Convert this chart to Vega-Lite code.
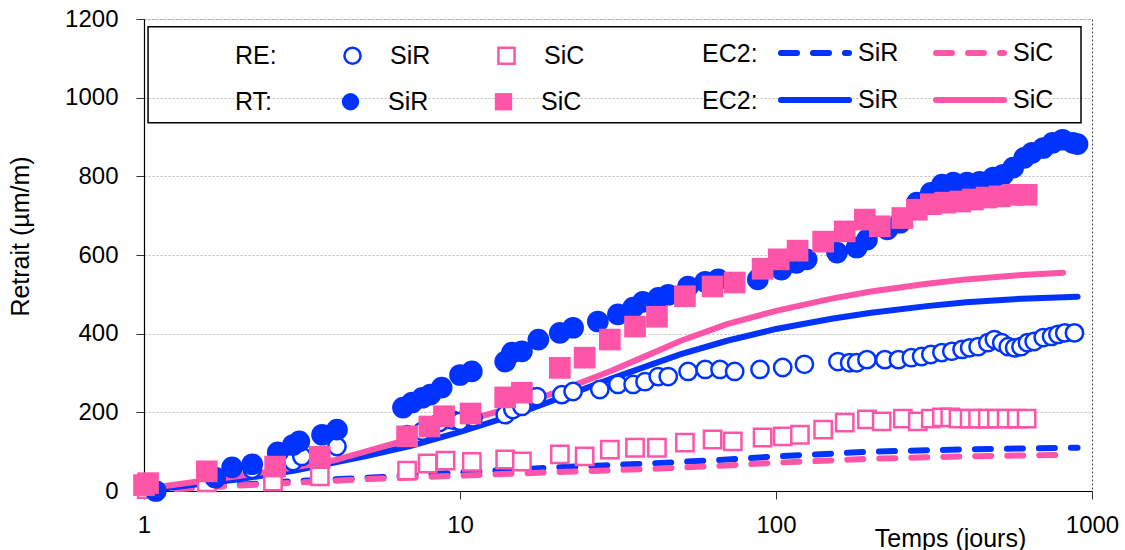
{
  "$schema": "https://vega.github.io/schema/vega-lite/v6.json",
  "width": 948,
  "height": 472,
  "autosize": {"type": "none"},
  "padding": {"left": 144, "top": 19, "right": 33, "bottom": 59},
  "background": "white",
  "config": {
    "font": "Liberation Sans",
    "view": {"stroke": "#444444", "strokeDash": [2, 2], "strokeWidth": 1},
    "axisX": {
      "grid": false, "tickSize": 8, "tickColor": "#333333", "domainColor": "black", "domainWidth": 1.2,
      "labelFontSize": 24, "labelColor": "black", "labelPadding": 14, "labelFlush": false,
      "titleFontSize": 25, "titleFontWeight": "normal", "titleColor": "black",
      "titleX": 806, "titleY": 55, "titleAlign": "center", "titleBaseline": "alphabetic"
    },
    "axisY": {
      "grid": true, "gridDash": [2, 2], "gridColor": "#bbbbbb", "gridWidth": 1,
      "tickSize": 8, "tickColor": "#333333", "domainColor": "black", "domainWidth": 1.2,
      "labelFontSize": 24, "labelColor": "black", "labelPadding": 18,
      "titleFontSize": 25, "titleFontWeight": "normal", "titleColor": "black",
      "titleX": -116, "titleY": 217, "titleAngle": 270, "titleAlign": "center", "titleBaseline": "alphabetic"
    },
    "legend": {
      "titleFontSize": 25, "titleFontWeight": "normal", "titleColor": "black",
      "labelFontSize": 25, "labelColor": "black", "padding": 0,
      "titleOrient": "left", "titleAnchor": "middle", "titleBaseline": "middle",
      "direction": "horizontal", "orient": "none"
    }
  },
  "datasets": {
    "box": [{"name": "legend box"}],
    "re": [
      {"t": 1.09, "v": 0, "mat": "SiR"}, {"t": 1.68, "v": 30, "mat": "SiR"}, {"t": 2.2, "v": 55, "mat": "SiR"}, {"t": 2.96, "v": 75, "mat": "SiR"}, {"t": 3.16, "v": 88, "mat": "SiR"}, {"t": 4.08, "v": 113, "mat": "SiR"}, {"t": 6.8, "v": 143, "mat": "SiR"}, {"t": 7.6, "v": 152, "mat": "SiR"}, {"t": 8.6, "v": 174, "mat": "SiR"}, {"t": 9.5, "v": 180, "mat": "SiR"}, {"t": 10, "v": 177, "mat": "SiR"}, {"t": 11, "v": 186, "mat": "SiR"}, {"t": 13.9, "v": 194, "mat": "SiR"}, {"t": 14.7, "v": 207, "mat": "SiR"}, {"t": 15.7, "v": 215, "mat": "SiR"}, {"t": 17.5, "v": 240, "mat": "SiR"}, {"t": 21, "v": 245, "mat": "SiR"}, {"t": 22.8, "v": 253, "mat": "SiR"}, {"t": 27.7, "v": 258, "mat": "SiR"}, {"t": 31.6, "v": 271, "mat": "SiR"}, {"t": 35.3, "v": 271, "mat": "SiR"}, {"t": 38.5, "v": 278, "mat": "SiR"}, {"t": 42.4, "v": 291, "mat": "SiR"}, {"t": 45.6, "v": 291, "mat": "SiR"}, {"t": 52.7, "v": 304, "mat": "SiR"}, {"t": 59.7, "v": 309, "mat": "SiR"}, {"t": 66.5, "v": 309, "mat": "SiR"}, {"t": 74, "v": 304, "mat": "SiR"}, {"t": 89, "v": 309, "mat": "SiR"}, {"t": 105, "v": 314, "mat": "SiR"}, {"t": 123, "v": 322, "mat": "SiR"}, {"t": 157, "v": 329, "mat": "SiR"}, {"t": 171, "v": 326, "mat": "SiR"}, {"t": 180, "v": 326, "mat": "SiR"}, {"t": 194, "v": 334, "mat": "SiR"}, {"t": 221, "v": 334, "mat": "SiR"}, {"t": 244, "v": 334, "mat": "SiR"}, {"t": 268, "v": 339, "mat": "SiR"}, {"t": 289, "v": 342, "mat": "SiR"}, {"t": 309, "v": 347, "mat": "SiR"}, {"t": 335, "v": 352, "mat": "SiR"}, {"t": 360, "v": 355, "mat": "SiR"}, {"t": 388, "v": 360, "mat": "SiR"}, {"t": 410, "v": 364, "mat": "SiR"}, {"t": 436, "v": 367, "mat": "SiR"}, {"t": 468, "v": 377, "mat": "SiR"}, {"t": 491, "v": 385, "mat": "SiR"}, {"t": 518, "v": 377, "mat": "SiR"}, {"t": 543, "v": 367, "mat": "SiR"}, {"t": 569, "v": 364, "mat": "SiR"}, {"t": 596, "v": 367, "mat": "SiR"}, {"t": 625, "v": 377, "mat": "SiR"}, {"t": 656, "v": 380, "mat": "SiR"}, {"t": 701, "v": 390, "mat": "SiR"}, {"t": 745, "v": 393, "mat": "SiR"}, {"t": 780, "v": 398, "mat": "SiR"}, {"t": 820, "v": 402, "mat": "SiR"}, {"t": 880, "v": 402, "mat": "SiR"},
      {"t": 1.02, "v": 5, "mat": "SiC"}, {"t": 1.58, "v": 22, "mat": "SiC"}, {"t": 2.56, "v": 24, "mat": "SiC"}, {"t": 3.6, "v": 37, "mat": "SiC"}, {"t": 6.8, "v": 52, "mat": "SiC"}, {"t": 7.9, "v": 70, "mat": "SiC"}, {"t": 9.0, "v": 77, "mat": "SiC"}, {"t": 10.9, "v": 74, "mat": "SiC"}, {"t": 13.9, "v": 80, "mat": "SiC"}, {"t": 15.7, "v": 75, "mat": "SiC"}, {"t": 20.7, "v": 93, "mat": "SiC"}, {"t": 24.8, "v": 88, "mat": "SiC"}, {"t": 29.8, "v": 105, "mat": "SiC"}, {"t": 35.8, "v": 110, "mat": "SiC"}, {"t": 42, "v": 110, "mat": "SiC"}, {"t": 51.5, "v": 123, "mat": "SiC"}, {"t": 63, "v": 131, "mat": "SiC"}, {"t": 73, "v": 126, "mat": "SiC"}, {"t": 90.7, "v": 136, "mat": "SiC"}, {"t": 105, "v": 139, "mat": "SiC"}, {"t": 119, "v": 143, "mat": "SiC"}, {"t": 141, "v": 156, "mat": "SiC"}, {"t": 165, "v": 174, "mat": "SiC"}, {"t": 194, "v": 182, "mat": "SiC"}, {"t": 216, "v": 177, "mat": "SiC"}, {"t": 252, "v": 184, "mat": "SiC"}, {"t": 281, "v": 177, "mat": "SiC"}, {"t": 309, "v": 184, "mat": "SiC"}, {"t": 335, "v": 187, "mat": "SiC"}, {"t": 356, "v": 187, "mat": "SiC"}, {"t": 378, "v": 184, "mat": "SiC"}, {"t": 410, "v": 184, "mat": "SiC"}, {"t": 436, "v": 184, "mat": "SiC"}, {"t": 468, "v": 184, "mat": "SiC"}, {"t": 500, "v": 184, "mat": "SiC"}, {"t": 537, "v": 184, "mat": "SiC"}, {"t": 578, "v": 184, "mat": "SiC"}, {"t": 621, "v": 184, "mat": "SiC"}
    ],
    "rt": [
      {"t": 1.09, "v": 0, "mat": "SiR"}, {"t": 1.68, "v": 34, "mat": "SiR"}, {"t": 1.9, "v": 60, "mat": "SiR"}, {"t": 2.2, "v": 68, "mat": "SiR"}, {"t": 2.65, "v": 98, "mat": "SiR"}, {"t": 2.96, "v": 117, "mat": "SiR"}, {"t": 3.1, "v": 126, "mat": "SiR"}, {"t": 3.66, "v": 143, "mat": "SiR"}, {"t": 4.08, "v": 156, "mat": "SiR"}, {"t": 6.6, "v": 212, "mat": "SiR"}, {"t": 7.05, "v": 225, "mat": "SiR"}, {"t": 7.6, "v": 237, "mat": "SiR"}, {"t": 8.05, "v": 245, "mat": "SiR"}, {"t": 8.75, "v": 263, "mat": "SiR"}, {"t": 10, "v": 295, "mat": "SiR"}, {"t": 10.9, "v": 304, "mat": "SiR"}, {"t": 13.9, "v": 329, "mat": "SiR"}, {"t": 14.6, "v": 352, "mat": "SiR"}, {"t": 15.7, "v": 355, "mat": "SiR"}, {"t": 17.7, "v": 385, "mat": "SiR"}, {"t": 20.7, "v": 402, "mat": "SiR"}, {"t": 22.8, "v": 415, "mat": "SiR"}, {"t": 27.3, "v": 431, "mat": "SiR"}, {"t": 31.6, "v": 449, "mat": "SiR"}, {"t": 35.3, "v": 466, "mat": "SiR"}, {"t": 37.9, "v": 481, "mat": "SiR"}, {"t": 42.4, "v": 491, "mat": "SiR"}, {"t": 45.6, "v": 499, "mat": "SiR"}, {"t": 52.7, "v": 520, "mat": "SiR"}, {"t": 59.7, "v": 532, "mat": "SiR"}, {"t": 65.6, "v": 538, "mat": "SiR"}, {"t": 87.6, "v": 538, "mat": "SiR"}, {"t": 104, "v": 563, "mat": "SiR"}, {"t": 116, "v": 580, "mat": "SiR"}, {"t": 125, "v": 589, "mat": "SiR"}, {"t": 156, "v": 606, "mat": "SiR"}, {"t": 180, "v": 619, "mat": "SiR"}, {"t": 194, "v": 639, "mat": "SiR"}, {"t": 225, "v": 665, "mat": "SiR"}, {"t": 247, "v": 682, "mat": "SiR"}, {"t": 279, "v": 733, "mat": "SiR"}, {"t": 309, "v": 758, "mat": "SiR"}, {"t": 335, "v": 779, "mat": "SiR"}, {"t": 364, "v": 784, "mat": "SiR"}, {"t": 402, "v": 784, "mat": "SiR"}, {"t": 441, "v": 786, "mat": "SiR"}, {"t": 487, "v": 797, "mat": "SiR"}, {"t": 523, "v": 804, "mat": "SiR"}, {"t": 563, "v": 822, "mat": "SiR"}, {"t": 610, "v": 847, "mat": "SiR"}, {"t": 646, "v": 860, "mat": "SiR"}, {"t": 701, "v": 872, "mat": "SiR"}, {"t": 750, "v": 885, "mat": "SiR"}, {"t": 807, "v": 893, "mat": "SiR"}, {"t": 870, "v": 885, "mat": "SiR"}, {"t": 900, "v": 882, "mat": "SiR"},
      {"t": 1.0, "v": 15, "mat": "SiC"}, {"t": 1.03, "v": 20, "mat": "SiC"}, {"t": 1.58, "v": 50, "mat": "SiC"}, {"t": 2.6, "v": 62, "mat": "SiC"}, {"t": 3.6, "v": 87, "mat": "SiC"}, {"t": 6.8, "v": 139, "mat": "SiC"}, {"t": 8.0, "v": 164, "mat": "SiC"}, {"t": 8.9, "v": 190, "mat": "SiC"}, {"t": 10.8, "v": 197, "mat": "SiC"}, {"t": 13.9, "v": 238, "mat": "SiC"}, {"t": 15.7, "v": 250, "mat": "SiC"}, {"t": 20.7, "v": 313, "mat": "SiC"}, {"t": 24.8, "v": 339, "mat": "SiC"}, {"t": 29.8, "v": 385, "mat": "SiC"}, {"t": 35.8, "v": 418, "mat": "SiC"}, {"t": 42, "v": 443, "mat": "SiC"}, {"t": 51.5, "v": 495, "mat": "SiC"}, {"t": 63, "v": 520, "mat": "SiC"}, {"t": 74, "v": 530, "mat": "SiC"}, {"t": 90.7, "v": 565, "mat": "SiC"}, {"t": 102, "v": 589, "mat": "SiC"}, {"t": 117, "v": 611, "mat": "SiC"}, {"t": 141, "v": 634, "mat": "SiC"}, {"t": 165, "v": 660, "mat": "SiC"}, {"t": 191, "v": 690, "mat": "SiC"}, {"t": 213, "v": 673, "mat": "SiC"}, {"t": 251, "v": 694, "mat": "SiC"}, {"t": 279, "v": 715, "mat": "SiC"}, {"t": 309, "v": 729, "mat": "SiC"}, {"t": 343, "v": 733, "mat": "SiC"}, {"t": 383, "v": 736, "mat": "SiC"}, {"t": 420, "v": 741, "mat": "SiC"}, {"t": 464, "v": 746, "mat": "SiC"}, {"t": 510, "v": 749, "mat": "SiC"}, {"t": 563, "v": 753, "mat": "SiC"}, {"t": 621, "v": 753, "mat": "SiC"}
    ],
    "ec2re": [
      {"t": 1, "v": 0, "mat": "SiR"}, {"t": 1.5, "v": 10, "mat": "SiR"}, {"t": 2, "v": 16, "mat": "SiR"}, {"t": 3, "v": 25, "mat": "SiR"}, {"t": 5, "v": 33, "mat": "SiR"}, {"t": 7, "v": 40, "mat": "SiR"}, {"t": 10, "v": 47, "mat": "SiR"}, {"t": 20, "v": 60, "mat": "SiR"}, {"t": 40, "v": 70, "mat": "SiR"}, {"t": 70, "v": 80, "mat": "SiR"}, {"t": 100, "v": 88, "mat": "SiR"}, {"t": 200, "v": 100, "mat": "SiR"}, {"t": 400, "v": 106, "mat": "SiR"}, {"t": 900, "v": 110, "mat": "SiR"},
      {"t": 1, "v": 0, "mat": "SiC"}, {"t": 1.5, "v": 8, "mat": "SiC"}, {"t": 2, "v": 14, "mat": "SiC"}, {"t": 3, "v": 21, "mat": "SiC"}, {"t": 5, "v": 30, "mat": "SiC"}, {"t": 10, "v": 39, "mat": "SiC"}, {"t": 20, "v": 48, "mat": "SiC"}, {"t": 40, "v": 56, "mat": "SiC"}, {"t": 70, "v": 65, "mat": "SiC"}, {"t": 100, "v": 72, "mat": "SiC"}, {"t": 200, "v": 82, "mat": "SiC"}, {"t": 400, "v": 88, "mat": "SiC"}, {"t": 800, "v": 92, "mat": "SiC"}
    ],
    "ec2rt": [
      {"t": 1, "v": 0, "mat": "SiR"}, {"t": 1.5, "v": 18, "mat": "SiR"}, {"t": 2, "v": 30, "mat": "SiR"}, {"t": 3, "v": 52, "mat": "SiR"}, {"t": 4, "v": 72, "mat": "SiR"}, {"t": 5, "v": 88, "mat": "SiR"}, {"t": 7, "v": 115, "mat": "SiR"}, {"t": 10, "v": 150, "mat": "SiR"}, {"t": 15, "v": 195, "mat": "SiR"}, {"t": 20, "v": 232, "mat": "SiR"}, {"t": 30, "v": 285, "mat": "SiR"}, {"t": 50, "v": 348, "mat": "SiR"}, {"t": 70, "v": 382, "mat": "SiR"}, {"t": 100, "v": 412, "mat": "SiR"}, {"t": 150, "v": 438, "mat": "SiR"}, {"t": 200, "v": 453, "mat": "SiR"}, {"t": 300, "v": 470, "mat": "SiR"}, {"t": 400, "v": 480, "mat": "SiR"}, {"t": 600, "v": 489, "mat": "SiR"}, {"t": 900, "v": 494, "mat": "SiR"},
      {"t": 1, "v": 5, "mat": "SiC"}, {"t": 1.5, "v": 25, "mat": "SiC"}, {"t": 2, "v": 38, "mat": "SiC"}, {"t": 3, "v": 60, "mat": "SiC"}, {"t": 4, "v": 78, "mat": "SiC"}, {"t": 7, "v": 133, "mat": "SiC"}, {"t": 10, "v": 175, "mat": "SiC"}, {"t": 15, "v": 215, "mat": "SiC"}, {"t": 20, "v": 250, "mat": "SiC"}, {"t": 30, "v": 305, "mat": "SiC"}, {"t": 40, "v": 348, "mat": "SiC"}, {"t": 50, "v": 382, "mat": "SiC"}, {"t": 70, "v": 424, "mat": "SiC"}, {"t": 100, "v": 458, "mat": "SiC"}, {"t": 150, "v": 489, "mat": "SiC"}, {"t": 200, "v": 507, "mat": "SiC"}, {"t": 300, "v": 527, "mat": "SiC"}, {"t": 400, "v": 538, "mat": "SiC"}, {"t": 600, "v": 549, "mat": "SiC"}, {"t": 810, "v": 555, "mat": "SiC"}
    ]
  },
  "layer": [
    {
      "data": {"name": "ec2re"},
      "mark": {"type": "line", "strokeWidth": 6, "strokeDash": [16, 16], "strokeCap": "round"},
      "encoding": {
        "x": {"field": "t", "type": "quantitative", "title": "Temps (jours)", "scale": {"type": "log", "domain": [1, 1000], "nice": false}, "axis": {"values": [1, 10, 100, 1000], "format": "d"}},
        "y": {"field": "v", "type": "quantitative", "title": "Retrait (µm/m)", "scale": {"domain": [0, 1200], "nice": false}, "axis": {"values": [0, 200, 400, 600, 800, 1000, 1200], "format": "d"}},
        "color": {
          "field": "mat", "type": "nominal",
          "scale": {"domain": ["SiR", "SiC"], "range": ["#0033ff", "#ff55a8"]},
          "legend": {
            "title": "EC2:", "legendX": 558, "legendY": -3, "titlePadding": 20,
            "symbolType": "stroke", "symbolSize": 4624, "symbolStrokeWidth": 6, "symbolDash": [16, 16],
            "labelOffset": 6, "columnPadding": 25,
            "encode": {"symbols": {"update": {"strokeCap": {"value": "round"}}}, "title": {"update": {"dy": {"value": 13}}}}
          }
        }
      }
    },
    {
      "data": {"name": "box"},
      "mark": {"type": "rect", "filled": false, "stroke": "black", "strokeWidth": 1.5, "opacity": 1},
      "encoding": {
        "x": {"datum": 1.03},
        "x2": {"datum": 923},
        "y": {"datum": 1180},
        "y2": {"datum": 936}
      }
    },
    {
      "data": {"name": "ec2rt"},
      "mark": {"type": "line", "strokeWidth": 6, "strokeCap": "round"},
      "encoding": {
        "x": {"field": "t", "type": "quantitative", "title": "Temps (jours)", "scale": {"type": "log", "domain": [1, 1000], "nice": false}, "axis": {"values": [1, 10, 100, 1000], "format": "d"}},
        "y": {"field": "v", "type": "quantitative", "title": "Retrait (µm/m)", "scale": {"domain": [0, 1200], "nice": false}, "axis": {"values": [0, 200, 400, 600, 800, 1000, 1200], "format": "d"}},
        "color": {
          "field": "mat", "type": "nominal",
          "scale": {"domain": ["SiR", "SiC"], "range": ["#0033ff", "#ff55a8"]},
          "legend": {
            "title": "EC2:", "legendX": 558, "legendY": 44, "titlePadding": 20,
            "symbolType": "stroke", "symbolSize": 4624, "symbolStrokeWidth": 6,
            "labelOffset": 6, "columnPadding": 25,
            "encode": {"symbols": {"update": {"strokeCap": {"value": "round"}}}, "title": {"update": {"dy": {"value": 13}}}}
          }
        }
      }
    },
    {
      "data": {"name": "re"},
      "mark": {"type": "point", "filled": false, "fill": "white", "strokeWidth": 2.5, "size": 300, "opacity": 1},
      "encoding": {
        "x": {"field": "t", "type": "quantitative", "title": "Temps (jours)", "scale": {"type": "log", "domain": [1, 1000], "nice": false}, "axis": {"values": [1, 10, 100, 1000], "format": "d"}},
        "y": {"field": "v", "type": "quantitative", "title": "Retrait (µm/m)", "scale": {"domain": [0, 1200], "nice": false}, "axis": {"values": [0, 200, 400, 600, 800, 1000, 1200], "format": "d"}},
        "stroke": {
          "field": "mat", "type": "nominal",
          "scale": {"domain": ["SiR", "SiC"], "range": ["#0033ff", "#ff55a8"]},
          "legend": {
            "title": "RE:", "legendX": 91, "legendY": 24, "titlePadding": 63,
            "symbolSize": 260, "symbolStrokeWidth": 2.5, "labelOffset": 25, "columnPadding": 62
          }
        },
        "shape": {
          "field": "mat", "type": "nominal",
          "scale": {"domain": ["SiR", "SiC"], "range": ["circle", "square"]},
          "legend": {
            "title": "RE:", "legendX": 91, "legendY": 24, "titlePadding": 63,
            "symbolSize": 260, "symbolStrokeWidth": 2.5, "labelOffset": 25, "columnPadding": 62
          }
        }
      }
    },
    {
      "data": {"name": "rt"},
      "mark": {"type": "point", "filled": true, "size": 470, "opacity": 1, "strokeWidth": 0},
      "encoding": {
        "x": {"field": "t", "type": "quantitative", "title": "Temps (jours)", "scale": {"type": "log", "domain": [1, 1000], "nice": false}, "axis": {"values": [1, 10, 100, 1000], "format": "d"}},
        "y": {"field": "v", "type": "quantitative", "title": "Retrait (µm/m)", "scale": {"domain": [0, 1200], "nice": false}, "axis": {"values": [0, 200, 400, 600, 800, 1000, 1200], "format": "d"}},
        "color": {
          "field": "mat", "type": "nominal",
          "scale": {"domain": ["SiR", "SiC"], "range": ["#0033ff", "#ff55a8"]},
          "legend": {
            "title": "RT:", "legendX": 91, "legendY": 70, "titlePadding": 65,
            "symbolSize": 300, "labelOffset": 25, "columnPadding": 62
          }
        },
        "shape": {
          "field": "mat", "type": "nominal",
          "scale": {"domain": ["SiR", "SiC"], "range": ["circle", "square"]},
          "legend": {
            "title": "RT:", "legendX": 91, "legendY": 70, "titlePadding": 65,
            "symbolSize": 300, "labelOffset": 25, "columnPadding": 62
          }
        }
      }
    }
  ],
  "resolve": {"scale": {"color": "independent", "shape": "independent", "stroke": "independent"}}
}
